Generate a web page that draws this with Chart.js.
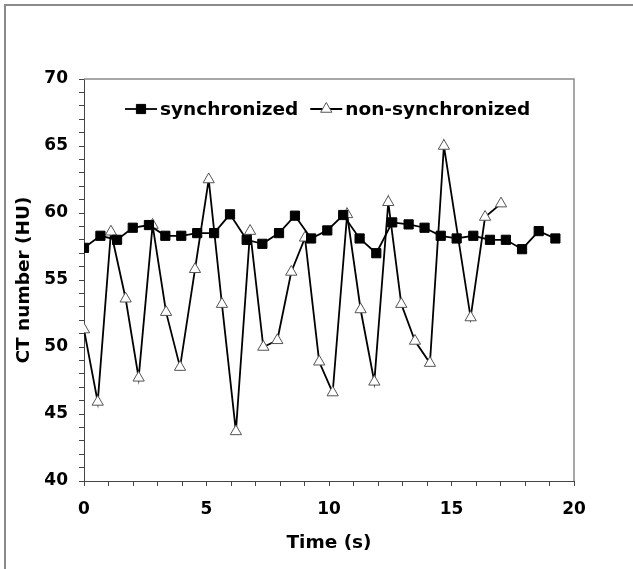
<!DOCTYPE html>
<html>
<head>
<meta charset="utf-8">
<script src="https://cdn.jsdelivr.net/npm/chart.js@4"></script>
<style>
  body { margin: 0; background: #fff; }
  canvas { display: block; }
</style>
</head>
<body>
<canvas id="ctChart" width="633" height="569"></canvas>
<script>
// datos
const syncTime = [0, 0.67, 1.35, 1.99, 2.65, 3.32, 3.97, 4.62, 5.31, 5.96, 6.64, 7.28, 7.96, 8.61, 9.27,
  9.93, 10.58, 11.25, 11.93, 12.58, 13.25, 13.9, 14.56, 15.21, 15.89, 16.57, 17.22, 17.88, 18.56, 19.24];
const syncCT = [57.4, 58.3, 58.0, 58.9, 59.1, 58.3, 58.3, 58.5, 58.5, 59.9, 58.0, 57.7, 58.5, 59.8, 58.1,
  58.7, 59.85, 58.1, 57.0, 59.3, 59.15, 58.9, 58.3, 58.1, 58.3, 58.0, 58.0, 57.3, 58.65, 58.1];

const nonSyncTime = [0, 0.56, 1.1, 1.7, 2.23, 2.8, 3.35, 3.92, 4.53, 5.09, 5.63, 6.2, 6.78, 7.32, 7.89,
  8.46, 9.02, 9.6, 10.15, 10.74, 11.29, 11.85, 12.42, 12.95, 13.51, 14.12, 14.69, 15.78, 16.37, 17.02];
const nonSyncCT = [51.3, 45.9, 58.6, 53.6, 47.7, 59.1, 52.6, 48.5, 55.8, 62.5, 53.2, 43.7, 58.65, 50.0, 50.5,
  55.6, 58.15, 48.9, 46.6, 59.9, 52.8, 47.4, 60.8, 53.2, 50.45, 48.8, 65.0, 52.2, 59.7, 60.7];

const xTicks = [0, 5, 10, 15, 20];
const yTicks = [40, 45, 50, 55, 60, 65, 70];

const seriesLabels = ["synchronized", "non-synchronized"];

const FONT = "'DejaVu Sans', Verdana, sans-serif";

function toPoints(xs, ys) {
  return xs.map((x, i) => ({ x: x, y: ys[i] }));
}

// marco exterior gris y caja del area del grafico
const framePlugin = {
  id: "frame",
  beforeDraw(chart) {
    const ctx = chart.ctx;
    ctx.save();
    ctx.fillStyle = "#fff";
    ctx.fillRect(0, 0, chart.width, chart.height);
    ctx.strokeStyle = "#8a8a8a";
    ctx.lineWidth = 2;
    ctx.beginPath();
    ctx.moveTo(5, chart.height);
    ctx.lineTo(5, 5);
    ctx.lineTo(chart.width, 5);
    ctx.stroke();
    ctx.restore();
  },
  afterDraw(chart) {
    const a = chart.chartArea;
    const ctx = chart.ctx;
    ctx.save();
    ctx.strokeStyle = "#8a8a8a";
    ctx.lineWidth = 1.5;
    ctx.beginPath();
    ctx.moveTo(a.left, a.top);
    ctx.lineTo(a.right, a.top);
    ctx.lineTo(a.right, a.bottom);
    ctx.stroke();
    ctx.restore();
  },
};

// leyenda dentro del area, con linea + marcador como en Excel
const legendPlugin = {
  id: "insideLegend",
  afterDatasetsDraw(chart) {
    const ctx = chart.ctx;
    const a = chart.chartArea;
    let x = a.left + 41;
    const y = a.top + 30;
    ctx.save();
    ctx.font = "bold 18.5px " + FONT;
    ctx.textBaseline = "alphabetic";
    chart.data.datasets.forEach((ds) => {
      ctx.strokeStyle = "#000";
      ctx.lineWidth = 1.8;
      ctx.beginPath();
      ctx.moveTo(x, y);
      ctx.lineTo(x + 32, y);
      ctx.stroke();
      ctx.fillStyle = ds.pointBackgroundColor;
      ctx.strokeStyle = ds.pointBorderColor;
      ctx.lineWidth = ds.pointBorderWidth;
      Chart.helpers.drawPoint(ctx, {
        pointStyle: ds.pointStyle,
        radius: ds.pointRadius,
        borderWidth: ds.pointBorderWidth,
      }, x + 16, y);
      x += 35;
      ctx.fillStyle = "#000";
      ctx.fillText(ds.label, x, y + 6);
      x += ctx.measureText(ds.label).width + 12;
    });
    ctx.restore();
  },
};

const ctx = document.getElementById("ctChart").getContext("2d");
new Chart(ctx, {
  type: "line",
  data: {
    datasets: [
      {
        label: seriesLabels[0],
        data: toPoints(syncTime, syncCT),
        borderColor: "#000",
        borderWidth: 1.8,
        pointStyle: "rect",
        pointRadius: 6.5,
        pointBorderWidth: 1,
        pointBackgroundColor: "#000",
        pointBorderColor: "#000",
        tension: 0,
      },
      {
        label: seriesLabels[1],
        data: toPoints(nonSyncTime, nonSyncCT),
        borderColor: "#000",
        borderWidth: 1.8,
        pointStyle: "triangle",
        pointRadius: 6.5,
        pointBorderWidth: 1,
        pointBackgroundColor: "#fff",
        pointBorderColor: "#555",
        tension: 0,
      },
    ],
  },
  options: {
    responsive: false,
    animation: false,
    devicePixelRatio: 1,
    layout: { padding: { left: 8, top: 79, right: 59, bottom: 10 } },
    plugins: {
      legend: { display: false },
      tooltip: { enabled: false },
    },
    scales: {
      x: {
        type: "linear",
        min: 0,
        max: 20,
        afterFit(scale) { scale.height = 78; },
        border: { display: true, color: "#444", width: 1 },
        grid: { drawOnChartArea: false, drawTicks: true, tickLength: 5, tickColor: "#444" },
        ticks: {
          stepSize: 1,
          autoSkip: false,
          maxRotation: 0,
          padding: 13,
          color: "#000",
          font: { family: FONT, size: 17, weight: "bold" },
          callback: (v) => (xTicks.includes(v) ? v : ""),
        },
        title: {
          display: true,
          text: "Time (s)",
          color: "#000",
          padding: { top: 0, bottom: 5 },
          font: { family: FONT, size: 18.5, weight: "bold" },
        },
      },
      y: {
        min: 40,
        max: 70,
        afterFit(scale) { scale.width = 76; },
        border: { display: true, color: "#444", width: 1 },
        grid: { drawOnChartArea: false, drawTicks: true, tickLength: 5, tickColor: "#444" },
        ticks: {
          stepSize: 1,
          autoSkip: false,
          padding: 11,
          color: "#000",
          font: { family: FONT, size: 17, weight: "bold" },
          callback: (v) => (yTicks.includes(v) ? v : ""),
        },
        title: {
          display: true,
          text: "CT number (HU)",
          color: "#000",
          padding: { top: 5, bottom: 0 },
          font: { family: FONT, size: 18.5, weight: "bold" },
        },
      },
    },
  },
  plugins: [framePlugin, legendPlugin],
});
</script>
</body>
</html>
